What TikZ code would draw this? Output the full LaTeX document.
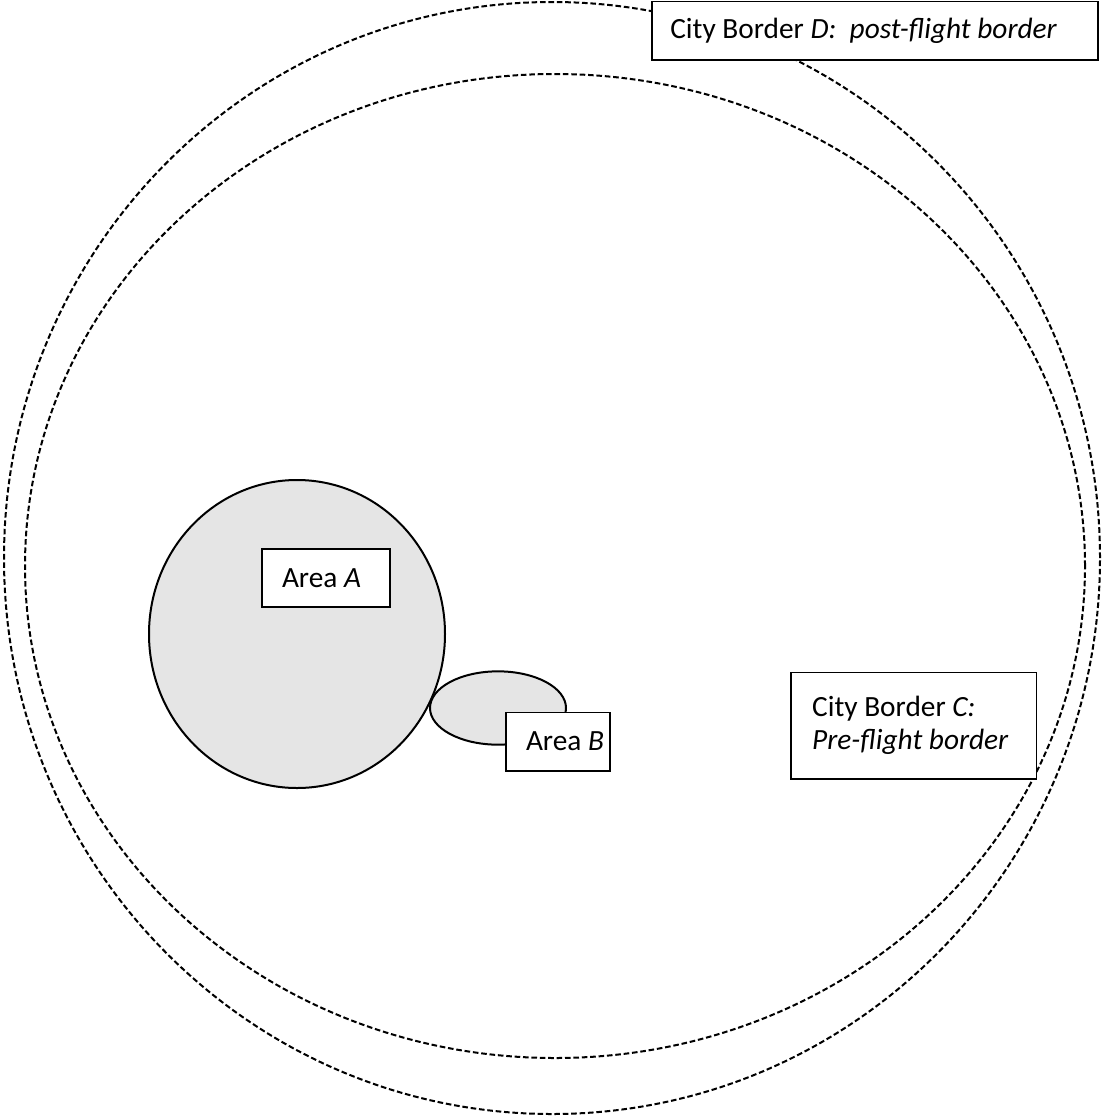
\documentclass[tikz,border=0pt]{standalone}
\usepackage{fontspec}
\setmainfont{Carlito}
\usetikzlibrary{shapes.geometric,positioning}
\tikzstyle{border}=[ellipse,draw=black,line width=1.5pt,dash pattern=on 4.2pt off 2.1pt,inner sep=0pt]
\tikzstyle{area}=[ellipse,draw=black,line width=1.5pt,fill=black!10,inner sep=0pt]
\tikzstyle{tag}=[rectangle,draw=black,line width=1pt,fill=white,font=\fontsize{22}{25}\selectfont,inner sep=0pt,align=flush left]

\begin{document}
\begin{tikzpicture}[x=0.75pt,y=-0.75pt]
            \useasboundingbox (0,0) rectangle (1104,1118);
            % city borders
            \node (D) [border, minimum width=822pt, minimum height=834pt] at (552,558) {};
            \node (C) [border, minimum width=795pt, minimum height=738pt] at (555,566) {};
            % areas
            \node (A) [area, minimum width=222pt, minimum height=231pt] at (297,634) {};
            \node (B) [area, minimum width=102pt, minimum height=55pt] at (498,708) {};
            % labels
            \node (tagD) [tag, minimum width=334.5pt, minimum height=44pt, text width=307pt] at (875,30.5) {City Border \textit{D:~ post-flight border}};
            \node (tagC) [tag, minimum width=184pt, minimum height=80pt, text width=152pt] at (913.5,725.5) {City Border \textit{C:}\\\textit{Pre-flight border}};
            \node (tagA) [tag, minimum width=96pt, minimum height=43.5pt, text width=66pt] at (326,578) {Area \textit{A}};
            \node (tagB) [tag, minimum width=78pt, minimum height=44pt, text width=48pt] at (558,741.5) {\hbox{Area \textit{B}}};
\end{tikzpicture}
\end{document}
